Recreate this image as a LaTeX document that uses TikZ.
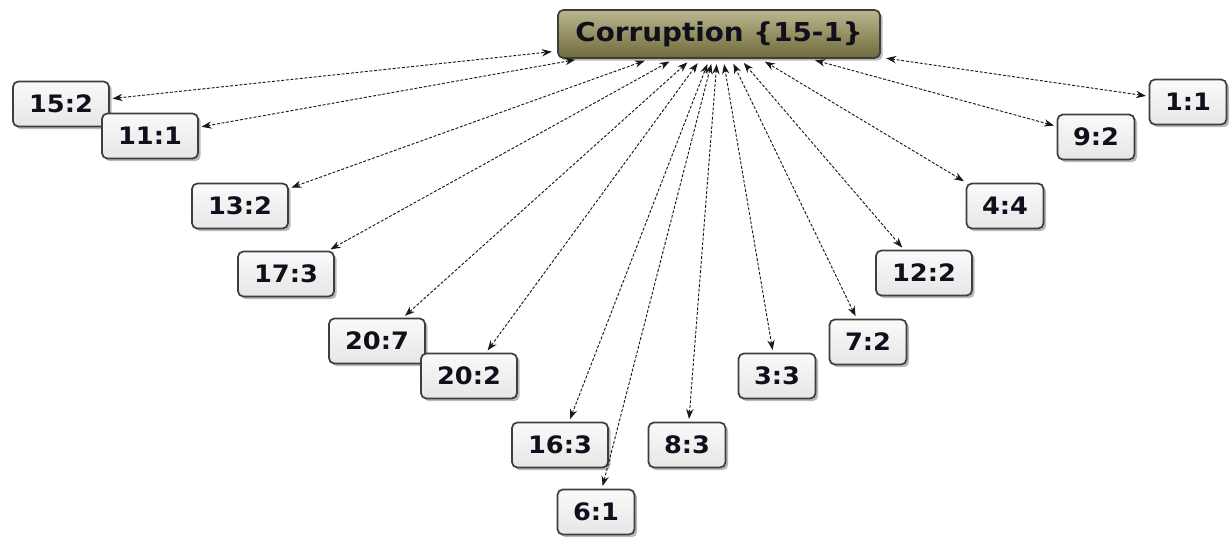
\documentclass[tikz,border=0pt]{standalone}
\usepackage{fontspec}
\setmainfont{DejaVu Sans}[FakeStretch=1.07]
\usetikzlibrary{arrows.meta,shadows}
\definecolor{oliveTop}{HTML}{BAB78F}
\definecolor{oliveBot}{HTML}{6E6A3A}
\definecolor{boxTop}{HTML}{FAFAFA}
\definecolor{boxBot}{HTML}{E6E6E6}
\definecolor{edgeGray}{HTML}{3E3E3E}
\definecolor{inkBlue}{HTML}{10101C}
\tikzset{
  px/.style={x=0.75pt,y=-0.75pt},
  topic/.style={draw=edgeGray, line width=1.3pt, rounded corners=4pt,
    top color=oliveTop, bottom color=oliveBot, minimum width=241.5pt,
    minimum height=36pt, text=inkBlue, font=\bfseries\fontsize{19.5}{22}\selectfont,
    drop shadow={shadow xshift=2pt,shadow yshift=-2pt,opacity=0.55}},
  leaf/.style={draw=edgeGray, line width=1.3pt, rounded corners=4pt,
    top color=boxTop, bottom color=boxBot, minimum height=33.75pt,
    text=inkBlue, font=\bfseries\fontsize{18}{20}\selectfont,
    drop shadow={shadow xshift=2pt,shadow yshift=-2pt,opacity=0.55}},
  wide/.style={leaf, minimum width=72pt},
  narrow/.style={leaf, minimum width=57.75pt},
  link/.style={dash pattern=on 2.2pt off 1.3pt, line width=0.7pt, black!90,
    {Stealth[length=7.5pt,width=5.5pt]}-{Stealth[length=7.5pt,width=5.5pt]},
    shorten <=2pt, shorten >=4pt}
}
\begin{document}
\begin{tikzpicture}[px]
\useasboundingbox (0,0) rectangle (1230,542);
\node[topic] (c) at (719,34) {Corruption \{15-1\}};
\node[wide] (n152) at (61,104) {15:2};
\node[wide] (n111) at (150,136) {11:1};
\node[wide] (n132) at (240,206) {13:2};
\node[wide] (n173) at (286,274) {17:3};
\node[wide] (n207) at (377,341) {20:7};
\node[wide] (n202) at (469,376) {20:2};
\node[wide] (n163) at (560,445) {16:3};
\node[narrow] (n61) at (596,512) {6:1};
\node[narrow] (n83) at (687,445) {8:3};
\node[narrow] (n33) at (777,376) {3:3};
\node[narrow] (n72) at (868,342) {7:2};
\node[wide] (n122) at (924,273) {12:2};
\node[narrow] (n44) at (1005,206) {4:4};
\node[narrow] (n92) at (1096,137) {9:2};
\node[narrow] (n11) at (1188,102) {1:1};
\foreach \n in {n152,n111,n132,n173,n207,n202,n163,n61,n83,n33,n72,n122,n44,n92,n11}
  \draw[link] (\n) -- (c);
\end{tikzpicture}
\end{document}
